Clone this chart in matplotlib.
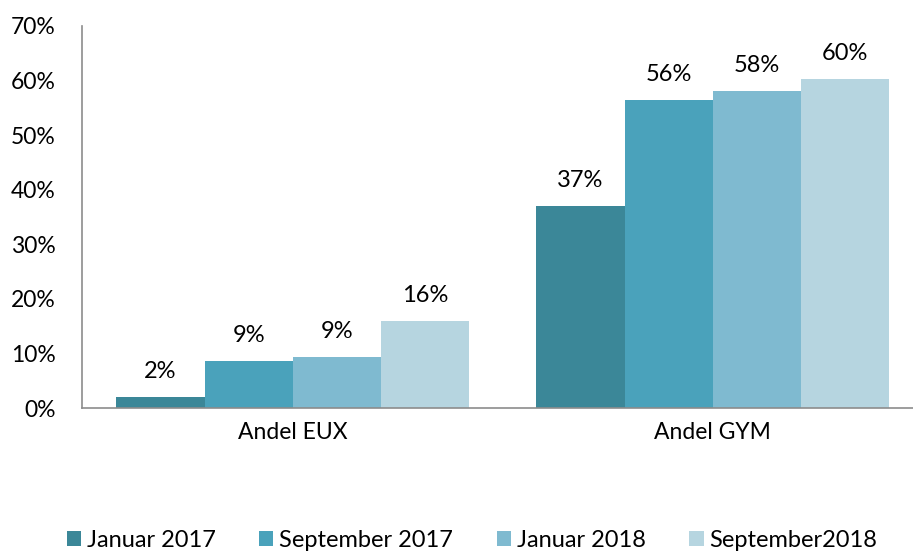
import matplotlib.pyplot as plt
import numpy as np
from matplotlib.patches import Patch

plt.rcParams["font.family"] = ["Lato", "DejaVu Sans"]

categories = ["Andel EUX", "Andel GYM"]
series_names = ["Januar 2017", "September 2017", "Januar 2018", "September2018"]
values = [
    [0.020, 0.370],
    [0.086, 0.564],
    [0.093, 0.581],
    [0.159, 0.603],
]
colors = ["#3B8798", "#4AA2BB", "#7FBAD0", "#B6D5E0"]

fig = plt.figure(figsize=(9.13, 5.53), dpi=100)
ax = fig.add_axes([0.0898, 0.262, 0.910, 0.691])

x = np.arange(len(categories))
width = 0.21
for i, (name, vals) in enumerate(zip(series_names, values)):
    pos = x + (i - 1.5) * width
    bars = ax.bar(pos, vals, width, color=colors[i], label=name)
    for b, v in zip(bars, vals):
        ax.annotate(f"{v:.0%}", (b.get_x() + b.get_width() / 2, v),
                    xytext=(0, 11), textcoords="offset points",
                    ha="center", va="bottom", fontsize=17, color="#000000")

ax.set_xlim(-0.502, 1.476)
ax.set_ylim(0, 0.70)
ticks = np.arange(0, 0.71, 0.1)
ax.set_yticks(ticks)
ax.set_yticklabels([f"{int(round(t * 100))}%" for t in ticks])
ax.set_xticks(x)
ax.set_xticklabels(categories)
ax.tick_params(axis="both", length=0, labelsize=16.5, colors="#000000")
ax.tick_params(axis="y", pad=19)
ax.tick_params(axis="x", pad=10)

for s in ["top", "right"]:
    ax.spines[s].set_visible(False)
for s in ["left", "bottom"]:
    ax.spines[s].set_color("#8C8C8C")
    ax.spines[s].set_linewidth(1.2)

handles = [Patch(facecolor=c, label=n) for c, n in zip(colors, series_names)]
fig.legend(handles=handles, loc="lower center", bbox_to_anchor=(0.517, -0.035), ncol=4,
           frameon=False, fontsize=17, handlelength=0.6, handleheight=0.6,
           handletextpad=0.25, columnspacing=1.85)

fig.savefig("out.png", dpi=100)
